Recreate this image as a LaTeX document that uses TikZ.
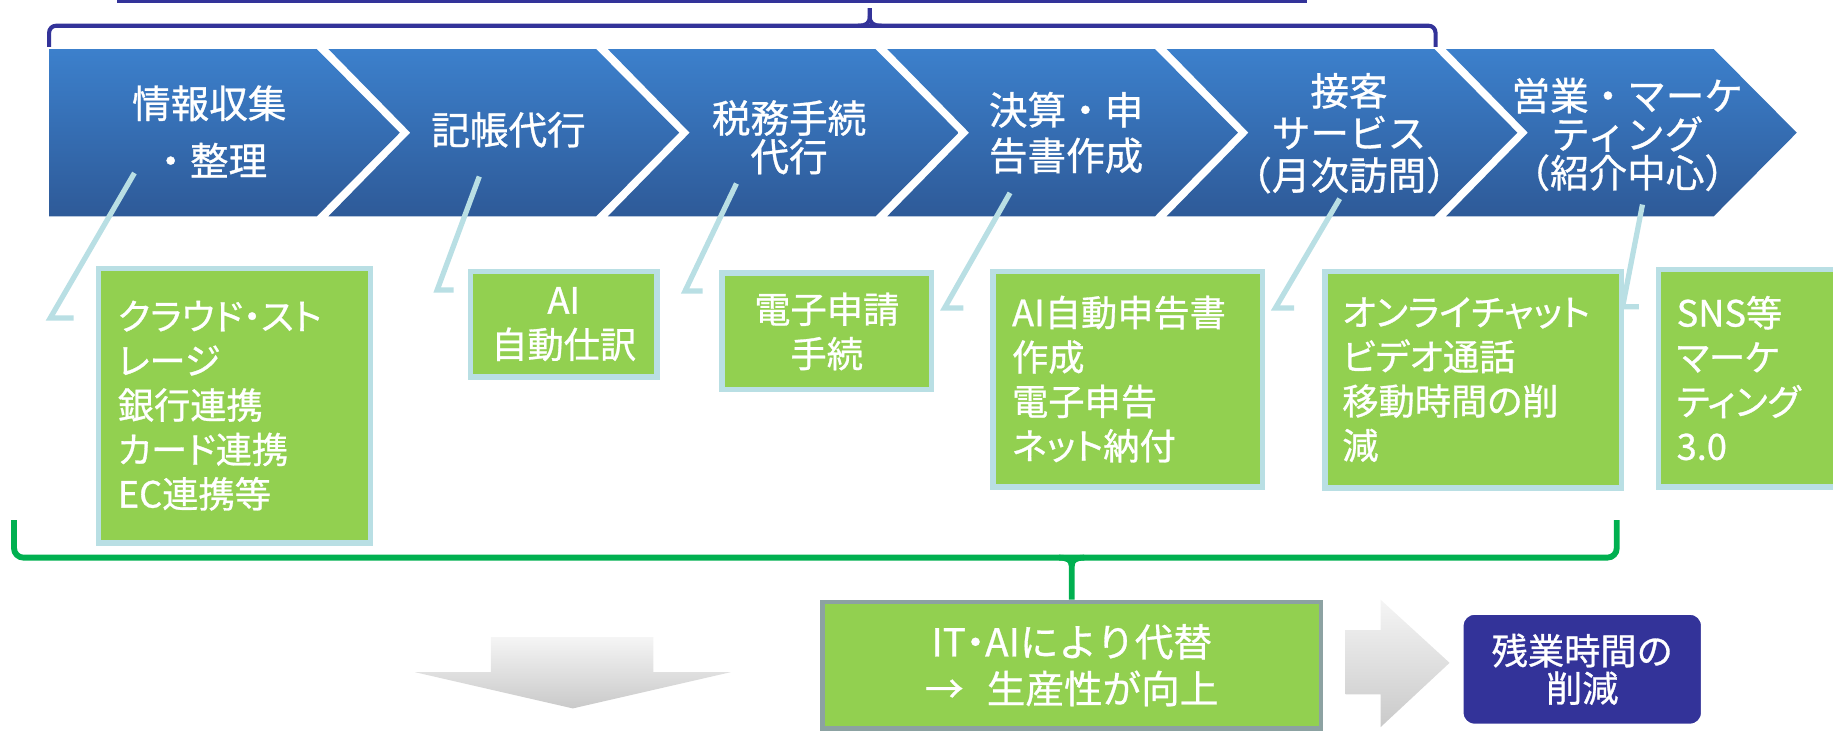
\documentclass[tikz,border=0pt]{standalone}
\usepackage{fontspec}
\newfontfamily\jp{Noto Sans CJK JP}[FakeBold=0.8]
\newfontfamily\jpp{Noto Sans CJK JP}[RawFeature={+palt},FakeBold=0.8]
\usetikzlibrary{calc,shadows}
\definecolor{chtop}{RGB}{60,128,204}
\definecolor{chbot}{RGB}{46,90,152}
\definecolor{navy}{RGB}{51,51,153}
\definecolor{lblue}{RGB}{185,223,228}
\definecolor{lgreen}{RGB}{146,208,80}
\definecolor{dgreen}{RGB}{0,176,80}
\definecolor{itborder}{RGB}{140,162,162}
\begin{document}
\begin{tikzpicture}[x=1pt,y=-1pt,
  chev/.style={top color=chtop,bottom color=chbot},
  chevtext/.style={text=white,align=center,font=\jp\fontsize{33}{36}\selectfont,inner sep=0pt},
  callout/.style={draw=lblue,line width=4.5pt,fill=lgreen,text=white,
    font=\jpp\fontsize{31}{38}\selectfont,inner ysep=0pt,inner xsep=16pt,anchor=north west},
  link/.style={draw=lblue,line width=4.5pt,line join=miter},
  bluebr/.style={draw=navy,line width=3.5pt},
  gbr/.style={draw=dgreen,line width=5pt},
  grayarrow/.style={top color=gray!8,bottom color=gray!42},
]
\useasboundingbox (0,0) rectangle (1568,626);
\clip (0,0) rectangle (1568,626);

% top line (bottom of a cropped box) and blue brace
\coordinate (tl1) at (100,1);
\coordinate (tl2) at (1118,1);
\draw[bluebr,line width=3pt] (tl1) -- (tl2);
\draw[bluebr,rounded corners=6] (42,40) -- (42,22) -- (1228,22) -- (1228,40);
\coordinate (btip) at (744,7);
\draw[bluebr] (734,22) .. controls (741,22) and (744,20) .. (744,14) -- (btip);
\draw[bluebr] (754,22) .. controls (747,22) and (744,20) .. (744,14);

% chevrons
\foreach \i in {0,...,5}{
  \pgfmathsetmacro{\xx}{42+239*\i}
  \ifnum\i=0
    \shade[chev] (\xx,42) -- ++(229,0) -- ++(71,71.5) -- ++(-71,71.5) -- (\xx,185) -- cycle;
  \else
    \shade[chev] (\xx,42) -- ++(229,0) -- ++(71,71.5) -- ++(-71,71.5) -- (\xx,185) -- ++(70,-71.5) -- cycle;
  \fi
}
\node[chevtext] (c1) at (179,112.5) {情報収集\\[13pt]・整理};
\node[chevtext] (c2) at (435,111) {記帳代行};
\node[chevtext] (c3) at (675,117.5) {税務手続\\[-3pt]代行};
\node[chevtext] (c4) at (912,113.5) {決算・申\\[3pt]告書作成};
\node[chevtext] (c5) at (1154,114) {接客\\サービス\\（月次訪問）};
\node[chevtext] (c6) at (1392,115) {営業・マーケ\\[-3pt]ティング\\[-3pt]（紹介中心）};

% callout links
\coordinate (s1) at (115,148);  \coordinate (k1) at (43,272);    \coordinate (e1) at (63,272);
\coordinate (s2) at (410,151);  \coordinate (k2) at (374,248);   \coordinate (e2) at (388,248);
\coordinate (s3) at (630,157);  \coordinate (k3) at (586,249);   \coordinate (e3) at (601,249);
\coordinate (s4) at (864,165);  \coordinate (k4) at (808,263.5); \coordinate (e4) at (824,263.5);
\coordinate (s5) at (1146,170); \coordinate (k5) at (1091,263.5);\coordinate (e5) at (1107,263.5);
\coordinate (s6) at (1405,175); \coordinate (k6) at (1388,262.5);\coordinate (e6) at (1402,262.5);
\foreach \n in {1,...,6}{\draw[link] (s\n) -- (k\n) -- (e\n);}

% callout boxes
\node[callout,minimum width=232.5pt,minimum height=235pt,text width=200pt,align=left] (b1) at (82.25,227.25)
  {クラウド・スト\\レージ\\銀行連携\\カード連携\\EC連携等};
\node[callout,minimum width=159.5pt,minimum height=90.5pt,text width=127pt,align=center] (b2) at (400.25,229.75)
  {AI\\自動仕訳};
\node[callout,minimum width=179.5pt,minimum height=100pt,text width=147pt,align=center] (b3) at (615.25,231.25)
  {電子申請\\手続};
\node[callout,minimum width=230.5pt,minimum height=184.6pt,text width=198pt,align=left] (b4) at (847.25,229.75)
  {AI自動申告書\\作成\\電子申告\\ネット納付};
\node[callout,minimum width=253.5pt,minimum height=185.3pt,text width=224pt,align=left,inner xsep=14.5pt] (b5) at (1131.25,229.95)
  {オンライチャット\\ビデオ通話\\移動時間の削\\減};
\node[callout,minimum width=241.5pt,minimum height=186.3pt,text width=210pt,align=left,inner xsep=15pt] (b6) at (1416.25,228.05)
  {SNS等\\マーケ\\ティング\\3.0};

% green bracket
\draw[gbr,rounded corners=8] (12,445) -- (12,477) -- (1383,477) -- (1383,445);

% IT box
\node[draw=itborder,line width=4pt,fill=lgreen,text=white,minimum width=426.5pt,minimum height=108pt,
  align=center,font=\jp\fontsize{33}{40}\selectfont,inner sep=0pt] (itbox) at (916.75,569)
  {IT{\jpp ・}AIにより代替\\→\hspace{0.6em}生産性が向上};
\coordinate (gmid) at (916.75,484);
\draw[gbr] (906,477) .. controls (913,477) and (916.75,479) .. (gmid) -- (itbox.north);
\draw[gbr] (927.5,477) .. controls (920.5,477) and (916.75,479) .. (gmid);

% gray arrows
\shade[grayarrow] (420,545) -- (559,545) -- (559,575) -- (625,575) -- (490,606) -- (355,575) -- (420,575) -- cycle;
\shade[grayarrow] (1151,539) -- (1181,539) -- (1181,513) -- (1240,567) -- (1181,622) -- (1181,594) -- (1151,594) -- cycle;

% navy result box
\node[draw=white,line width=6pt,fill=navy,rounded corners=12pt,text=white,minimum width=209pt,minimum height=99pt,
  align=center,font=\jp\fontsize{31}{32}\selectfont,inner sep=0pt,
  drop shadow={shadow xshift=0pt,shadow yshift=-2pt,opacity=0.25,fill=gray}] (res) at (1353.5,572.5)
  {残業時間の\\削減};
\end{tikzpicture}
\end{document}
